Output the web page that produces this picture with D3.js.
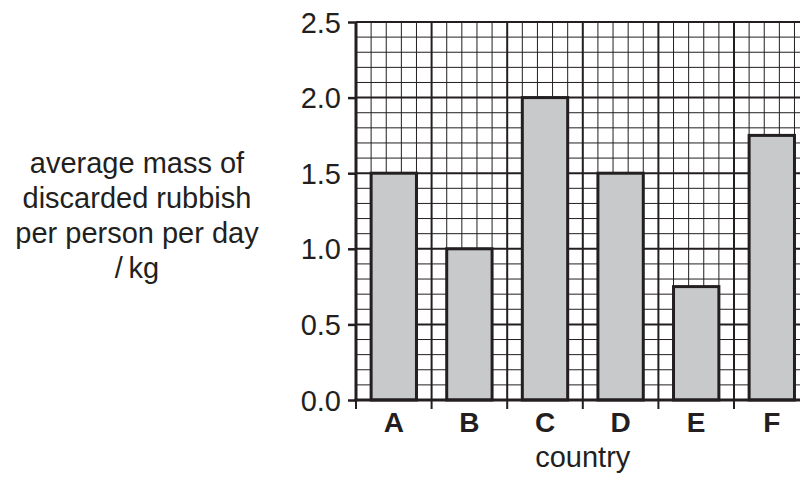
<!DOCTYPE html>
<html>
<head>
<meta charset="utf-8">
<script src="https://cdn.jsdelivr.net/npm/d3@7"></script>
<style>
  html, body { margin: 0; padding: 0; background: #fff; }
  svg { display: block; }
  text { font-family: "Liberation Sans", Arial, Helvetica, sans-serif; fill: #231f20; }
</style>
</head>
<body>
<svg id="chart" width="800" height="477"></svg>
<script>
// ---- data ----
const categories = ["A", "B", "C", "D", "E", "F"];
const values = [1.5, 1.0, 2.0, 1.5, 0.75, 1.75];
const yTicks = [0.0, 0.5, 1.0, 1.5, 2.0, 2.5];
const titleLines = ["average mass of", "discarded rubbish", "per person per day", "/\u2009kg"];
const xTitle = "country";

// ---- layout ----
const svg = d3.select("#chart");
const pLeft = 356, pRight = 809.6, pTop = 22, pBottom = 400;
const ink = "#231f20";

const y = d3.scaleLinear().domain([0, 2.5]).range([pBottom, pTop]);
const x = d3.scaleBand().domain(categories).range([pLeft, pRight]).padding(0);
const cells = d3.scaleLinear().domain([0, categories.length * 5]).range([pLeft, pRight]);

// grid
const grid = svg.append("g");
const yMinor = d3.range(0, 26).map(i => i / 10);
grid.selectAll("line.hy").data(yMinor).join("line")
  .attr("x1", pLeft).attr("x2", pRight)
  .attr("y1", d => y(d)).attr("y2", d => y(d))
  .attr("stroke", ink)
  .attr("stroke-width", (d, i) => i % 5 === 0 ? 2 : 1);
const xMinor = d3.range(0, categories.length * 5 + 1);
grid.selectAll("line.vx").data(xMinor).join("line")
  .attr("x1", d => cells(d)).attr("x2", d => cells(d))
  .attr("y1", pTop).attr("y2", pBottom)
  .attr("stroke", ink)
  .attr("stroke-width", d => d % 5 === 0 ? 2 : 1);

// bars
const bw = x.bandwidth();
svg.append("g").selectAll("rect").data(categories).join("rect")
  .attr("x", c => x(c) + bw * 0.2)
  .attr("width", bw * 0.6)
  .attr("y", (c, i) => y(values[i]))
  .attr("height", (c, i) => y(0) - y(values[i]))
  .attr("fill", "#c8c9cb")
  .attr("stroke", ink)
  .attr("stroke-width", 3);

// y axis
const yAxis = svg.append("g").attr("transform", `translate(${pLeft},0)`)
  .call(d3.axisLeft(y).tickValues(yTicks).tickFormat(d3.format(".1f")).tickSize(8).tickPadding(7));
yAxis.select(".domain").attr("stroke", ink).attr("stroke-width", 3).attr("d", `M0,${pTop}V${pBottom + 1.5}`);
yAxis.selectAll(".tick line").attr("stroke", ink).attr("stroke-width", 2.5);
yAxis.selectAll(".tick text").style("font-size", "29px").attr("fill", ink).attr("dy", "0.35em");

// x axis
const bounds = d3.range(0, categories.length).map(i => pLeft + i * bw);
const xAxis = svg.append("g");
xAxis.append("line").attr("x1", pLeft - 1.5).attr("x2", pRight).attr("y1", pBottom).attr("y2", pBottom)
  .attr("stroke", ink).attr("stroke-width", 3);
xAxis.selectAll("line.t").data(bounds).join("line")
  .attr("x1", d => d).attr("x2", d => d)
  .attr("y1", pBottom).attr("y2", pBottom + 9)
  .attr("stroke", ink).attr("stroke-width", 2);
xAxis.selectAll("text").data(categories).join("text")
  .attr("x", c => x(c) + bw / 2)
  .attr("y", 432)
  .attr("text-anchor", "middle")
  .style("font-size", "28px").style("font-weight", "bold")
  .text(c => c);

// x title
svg.append("text").attr("x", (pLeft + pRight) / 2).attr("y", 467)
  .attr("text-anchor", "middle").style("font-size", "29px").text(xTitle);

// y title
svg.append("g").selectAll("text").data(titleLines).join("text")
  .attr("x", 137)
  .attr("y", (d, i) => 173 + i * 35)
  .attr("text-anchor", "middle")
  .style("font-size", "29px")
  .text(d => d);
</script>
</body>
</html>
